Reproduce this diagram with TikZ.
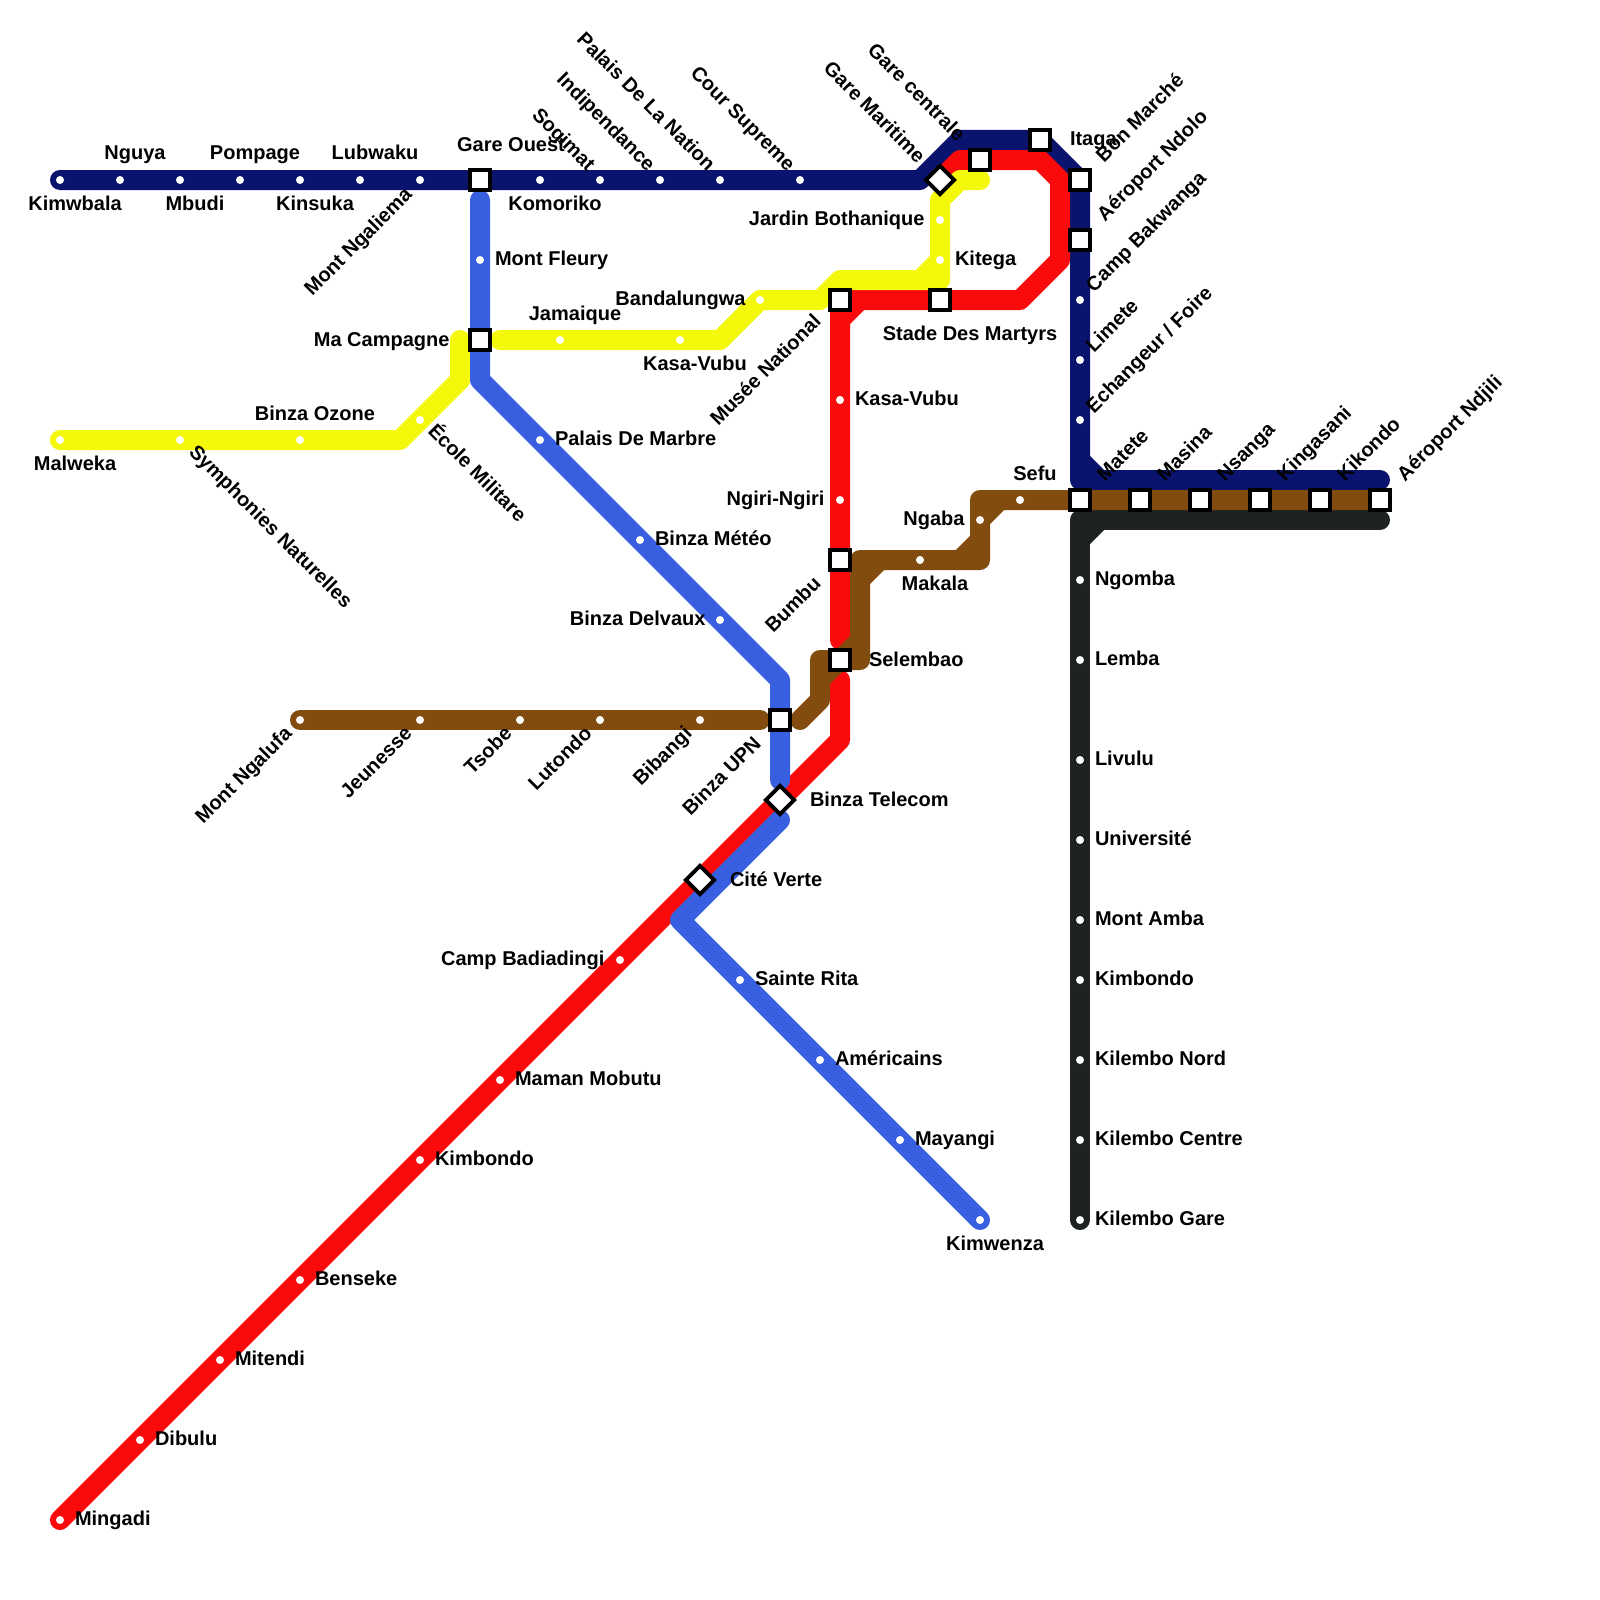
\documentclass[tikz,border=0pt]{standalone}
\usepackage{fontspec}
\setmainfont{Liberation Sans}
\definecolor{cnavy}{HTML}{0A146E}
\definecolor{cred}{HTML}{FA0A0A}
\definecolor{cblue}{HTML}{385FE0}
\definecolor{cyel}{HTML}{F4F80A}
\definecolor{cbrown}{HTML}{824C0F}
\definecolor{cblack}{HTML}{1E2222}
\tikzset{
  metro/.style={line width=20pt,line cap=round,line join=round},
  dotst/.style={circle,fill=white,inner sep=0pt,minimum size=8pt},
  sqst/.style={rectangle,draw=black,fill=white,line width=4pt,inner sep=0pt,minimum size=20pt},
  dmst/.style={rectangle,draw=black,fill=white,line width=4pt,inner sep=0pt,minimum size=20pt,rotate=45},
  lab/.style={inner sep=0pt,outer sep=0pt,font=\fontsize{20}{24}\bfseries\selectfont,text=black},
  R/.style={lab,anchor=base west,xshift=-1pt,yshift=-1pt},
  L/.style={lab,anchor=base east,xshift=0.5pt,yshift=-1pt},
  C/.style={lab,anchor=base,yshift=-1pt},
  upR/.style={lab,anchor=base west,rotate=45},
  upL/.style={lab,anchor=base east,rotate=45},
  dnR/.style={lab,anchor=base west,rotate=-45},
  dnL/.style={lab,anchor=base east,rotate=-45},
}
\begin{document}
\begin{tikzpicture}[x=1pt,y=-1pt]
\useasboundingbox (0,0) rectangle (1600,1600);
\fill[white] (0,0) rectangle (1600,1600);
% black line
\draw[metro,cblack] (1080,1220)--(1080,520)--(1380,520);
\draw[metro,cblack] (1080,540)--(1100,520);
% navy line
\draw[metro,cnavy] (60,180)--(920,180)--(960,140)--(1040,140)--(1080,180)--(1080,480)--(1380,480);
\draw[metro,cnavy] (1080,460)--(1100,480);
% red line
\draw[metro,cred] (60,1520)--(840,740)--(840,680);
\draw[metro,cred] (840,640)--(840,300)--(1020,300)--(1060,260)--(1060,180)--(1040,160)--(960,160)--(940,180);
\draw[metro,cred] (840,320)--(860,300);
% yellow line
\draw[metro,cyel] (60,440)--(400,440)--(460,380)--(460,340);
\draw[metro,cyel] (500,340)--(720,340)--(760,300)--(820,300)--(840,280)--(940,280)--(940,200)--(960,180)--(980,180);
\draw[metro,cyel] (920,280)--(940,260);
% blue line
\draw[metro,cblue] (480,200)--(480,380)--(780,680)--(780,780);
\draw[metro,cblue] (780,820)--(680,920)--(980,1220);
% brown line
\draw[metro,cbrown] (300,720)--(760,720);
\draw[metro,cbrown] (800,720)--(820,700)--(820,660)--(860,660)--(860,560)--(980,560)--(980,500)--(1380,500);
\draw[metro,cbrown] (820,680)--(840,660)--(860,640);
\draw[metro,cbrown] (860,580)--(880,560);
\draw[metro,cbrown] (960,560)--(980,540);
\draw[metro,cbrown] (980,520)--(1000,500);
% stations: dots
\foreach \n/\x/\y in {a1/60/180,a2/120/180,a3/180/180,a4/240/180,a5/300/180,a6/360/180,a7/420/180,a8/540/180,a9/600/180,a10/660/180,a11/720/180,a12/800/180,a13/1080/300,a14/1080/360,a15/1080/420,
 b1/60/1520,b2/140/1440,b3/220/1360,b4/300/1280,b5/420/1160,b6/500/1080,b7/620/960,b8/840/400,b9/840/500,
 c1/60/440,c2/180/440,c3/300/440,c4/420/420,c5/560/340,c6/680/340,c7/760/300,c8/940/220,c9/940/260,
 d1/480/260,d2/540/440,d3/640/540,d4/720/620,d5/740/980,d6/820/1060,d7/900/1140,d8/980/1220,
 e1/300/720,e2/420/720,e3/520/720,e4/600/720,e5/700/720,e6/920/560,e7/980/520,e8/1020/500,
 f1/1080/580,f2/1080/660,f3/1080/760,f4/1080/840,f5/1080/920,f6/1080/980,f7/1080/1060,f8/1080/1140,f9/1080/1220}
  {\node[dotst] (\n) at (\x,\y) {};}
% stations: squares
\foreach \n/\x/\y in {s1/480/180,s2/480/340,s3/980/160,s4/1040/140,s5/1080/180,s6/1080/240,s7/840/300,s8/940/300,s9/840/560,s10/840/660,s11/780/720,s12/1080/500,s13/1140/500,s14/1200/500,s15/1260/500,s16/1320/500,s17/1380/500}
  {\node[sqst] (\n) at (\x,\y) {};}
% stations: diamonds
\node[dmst] (t1) at (940,180) {};
\node[dmst] (t2) at (780,800) {};
\node[dmst] (t3) at (700,880) {};
% labels: navy
\node[C] (l1) at (75,209) {Kimwbala};
\node[C] (l2) at (135,159) {Nguya};
\node[C] (l3) at (195,209) {Mbudi};
\node[C] (l4) at (255,159) {Pompage};
\node[C] (l5) at (315,209) {Kinsuka};
\node[C] (l6) at (375,159) {Lubwaku};
\node[upL] (l7) at (413,196) {Mont Ngaliema};
\node[C] (l8) at (511,150) {Gare Ouest};
\node[C] (l9) at (555,209) {Komoriko};
\node[dnL] (l10) at (587,172) {Sogimat};
\node[dnL] (l11) at (647,172) {Indipendance};
\node[dnL] (l12) at (707,172) {Palais De La Nation};
\node[dnL] (l13) at (787,172) {Cour Supreme};
\node[dnL] (l14) at (917,164) {Gare Maritime};
\node[dnL] (l15) at (957,142) {Gare centrale};
\node[R] (l16) at (1071,145) {Itaga};
\node[upR] (l17) at (1104,163) {Bon Marché};
\node[upR] (l18) at (1105,222) {Aéroport Ndolo};
\node[upR] (l19) at (1094,293) {Camp Bakwanga};
\node[upR] (l20) at (1094,353) {Limete};
\node[upR] (l21) at (1094,414) {Echangeur / Foire};
% labels: row
\node[upR] (l22) at (1105,482) {Matete};
\node[upR] (l23) at (1165,482) {Masina};
\node[upR] (l24) at (1225,482) {Nsanga};
\node[upR] (l25) at (1285,482) {Kingasani};
\node[upR] (l26) at (1345,482) {Kikondo};
\node[upR] (l27) at (1405,482) {Aéroport Ndjili};
% labels: yellow
\node[C] (l28) at (75,469) {Malweka};
\node[dnR] (l29) at (188,453) {Symphonies Naturelles};
\node[C] (l30) at (315,419) {Binza Ozone};
\node[dnR] (l31) at (427,432) {École Militare};
\node[L] (l32) at (449,345) {Ma Campagne};
\node[C] (l33) at (575,319) {Jamaique};
\node[C] (l34) at (695,369) {Kasa-Vubu};
\node[L] (l35) at (745,304) {Bandalungwa};
\node[L] (l36) at (924,224) {Jardin Bothanique};
\node[R] (l37) at (956,264) {Kitega};
% labels: blue
\node[R] (l38) at (496,264) {Mont Fleury};
\node[R] (l39) at (556,444) {Palais De Marbre};
\node[R] (l40) at (656,544) {Binza Météo};
\node[L] (l41) at (705,624) {Binza Delvaux};
\node[R] (l42) at (756,984) {Sainte Rita};
\node[R] (l43) at (836,1064) {Américains};
\node[R] (l44) at (916,1144) {Mayangi};
\node[C] (l45) at (995,1249) {Kimwenza};
% labels: red
\node[upL] (l46) at (822,323) {Musée National};
\node[C] (l47) at (970,339) {Stade Des Martyrs};
\node[R] (l48) at (856,404) {Kasa-Vubu};
\node[L] (l49) at (824,504) {Ngiri-Ngiri};
\node[upL] (l50) at (822,585) {Bumbu};
\node[R] (l51) at (870,665) {Selembao};
\node[R] (l52) at (811,805) {Binza Telecom};
\node[R] (l53) at (731,885) {Cité Verte};
\node[L] (l54) at (604,964) {Camp Badiadingi};
\node[R] (l55) at (516,1084) {Maman Mobutu};
\node[R] (l56) at (436,1164) {Kimbondo};
\node[R] (l57) at (316,1284) {Benseke};
\node[R] (l58) at (236,1364) {Mitendi};
\node[R] (l59) at (156,1444) {Dibulu};
\node[R] (l60) at (76,1524) {Mingadi};
% labels: brown
\node[upL] (l61) at (293,735) {Mont Ngalufa};
\node[upL] (l62) at (413,735) {Jeunesse};
\node[upL] (l63) at (513,735) {Tsobe};
\node[upL] (l64) at (593,735) {Lutondo};
\node[upL] (l65) at (693,735) {Bibangi};
\node[upL] (l66) at (762,745) {Binza UPN};
\node[C] (l67) at (935,589) {Makala};
\node[L] (l68) at (964,524) {Ngaba};
\node[C] (l69) at (1035,479) {Sefu};
% labels: black
\node[R] (l70) at (1096,584) {Ngomba};
\node[R] (l71) at (1096,664) {Lemba};
\node[R] (l72) at (1096,764) {Livulu};
\node[R] (l73) at (1096,844) {Université};
\node[R] (l74) at (1096,924) {Mont Amba};
\node[R] (l75) at (1096,984) {Kimbondo};
\node[R] (l76) at (1096,1064) {Kilembo Nord};
\node[R] (l77) at (1096,1144) {Kilembo Centre};
\node[R] (l78) at (1096,1224) {Kilembo Gare};
\end{tikzpicture}
\end{document}
